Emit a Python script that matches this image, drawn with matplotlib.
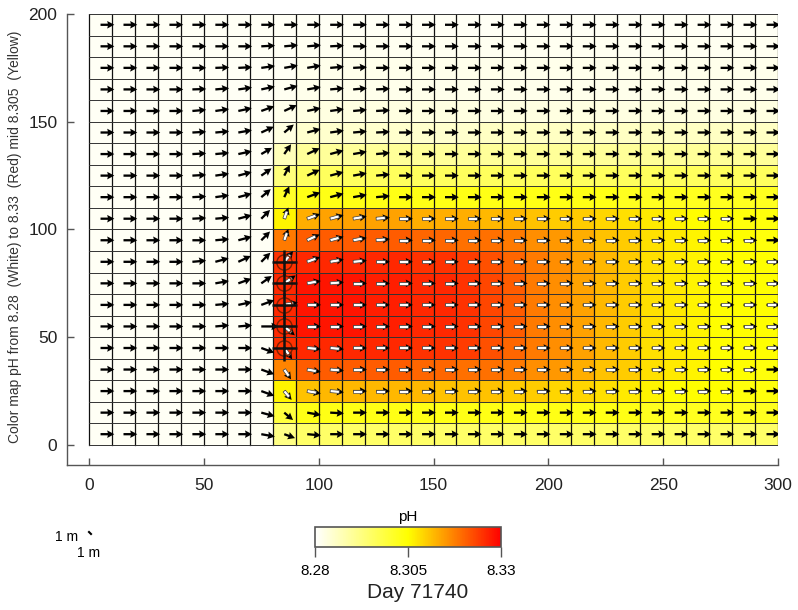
import numpy as np
import matplotlib
matplotlib.use("Agg")
import matplotlib.pyplot as plt
from matplotlib.colors import LinearSegmentedColormap, Normalize
from matplotlib.cm import ScalarMappable

plt.rcParams['font.family'] = ['Liberation Sans', 'DejaVu Sans']

x_edges = np.arange(0, 301, 10)
y_edges = np.arange(0, 201, 10)

# pH per cell, rows from the top (y 190-200) down to the bottom (y 0-10), 30 columns
ph_rows = [
    [8.281]*30,
    [8.281]*9 + [8.2815]*21,
    [8.281]*9 + [8.282]*21,
    [8.281]*8 + [8.2815] + [8.282]*21,
    [8.281]*8 + [8.282, 8.283, 8.283, 8.283, 8.283, 8.283, 8.283, 8.283, 8.283, 8.283, 8.283,
                 8.283, 8.283, 8.283, 8.283, 8.283, 8.283, 8.283, 8.283, 8.283, 8.283, 8.283],
    [8.281]*8 + [8.283, 8.285, 8.285, 8.285, 8.285, 8.285, 8.285, 8.285, 8.285, 8.286, 8.286,
                 8.286, 8.286, 8.286, 8.286, 8.286, 8.286, 8.286, 8.286, 8.286, 8.286, 8.286],
    [8.281]*8 + [8.287, 8.290, 8.290, 8.290, 8.290, 8.290, 8.290, 8.290, 8.290, 8.290, 8.290,
                 8.290, 8.290, 8.290, 8.290, 8.290, 8.290, 8.290, 8.290, 8.290, 8.290, 8.290],
    [8.281]*8 + [8.293, 8.296, 8.296, 8.296, 8.296, 8.296, 8.296, 8.296, 8.296, 8.296, 8.296,
                 8.296, 8.296, 8.296, 8.296, 8.296, 8.296, 8.296, 8.296, 8.296, 8.296, 8.296],
    [8.281]*8 + [8.301, 8.303, 8.303, 8.303, 8.303, 8.303, 8.303, 8.303, 8.303, 8.303, 8.303,
                 8.303, 8.303, 8.303, 8.303, 8.302, 8.302, 8.302, 8.302, 8.302, 8.302, 8.302],
    [8.281]*8 + [8.306, 8.313, 8.314, 8.314, 8.314, 8.314, 8.313, 8.313, 8.313, 8.312, 8.312,
                 8.311, 8.310, 8.310, 8.309, 8.308, 8.307, 8.306, 8.305, 8.305, 8.304, 8.304],
    [8.281]*8 + [8.318, 8.321, 8.321, 8.321, 8.321, 8.321, 8.320, 8.320, 8.319, 8.319, 8.318,
                 8.316, 8.315, 8.313, 8.311, 8.310, 8.308, 8.307, 8.306, 8.305, 8.305, 8.304],
    [8.281]*8 + [8.325, 8.326, 8.326, 8.326, 8.326, 8.326, 8.325, 8.325, 8.324, 8.322, 8.320,
                 8.318, 8.316, 8.314, 8.312, 8.310, 8.308, 8.307, 8.306, 8.305, 8.305, 8.305],
    [8.281]*8 + [8.326, 8.328, 8.328, 8.328, 8.327, 8.327, 8.326, 8.326, 8.325, 8.323, 8.321,
                 8.318, 8.316, 8.314, 8.312, 8.310, 8.308, 8.307, 8.306, 8.305, 8.305, 8.305],
    [8.281]*8 + [8.326, 8.328, 8.328, 8.328, 8.327, 8.327, 8.326, 8.326, 8.325, 8.323, 8.321,
                 8.318, 8.316, 8.314, 8.312, 8.310, 8.308, 8.307, 8.306, 8.305, 8.305, 8.305],
    [8.281]*8 + [8.326, 8.328, 8.328, 8.328, 8.327, 8.327, 8.326, 8.326, 8.325, 8.323, 8.321,
                 8.318, 8.316, 8.314, 8.312, 8.310, 8.308, 8.307, 8.306, 8.305, 8.305, 8.305],
    [8.281]*8 + [8.325, 8.326, 8.326, 8.326, 8.326, 8.326, 8.325, 8.325, 8.324, 8.322, 8.320,
                 8.318, 8.316, 8.314, 8.312, 8.310, 8.308, 8.307, 8.306, 8.305, 8.305, 8.305],
    [8.281]*8 + [8.317, 8.321, 8.321, 8.321, 8.321, 8.321, 8.320, 8.320, 8.319, 8.319, 8.318,
                 8.316, 8.315, 8.313, 8.311, 8.310, 8.308, 8.307, 8.306, 8.305, 8.305, 8.304],
    [8.281]*8 + [8.306, 8.311, 8.312, 8.312, 8.312, 8.312, 8.312, 8.311, 8.311, 8.311, 8.310,
                 8.310, 8.309, 8.309, 8.308, 8.307, 8.306, 8.305, 8.305, 8.305, 8.304, 8.304],
    [8.281]*8 + [8.299, 8.303, 8.303, 8.303, 8.303, 8.303, 8.303, 8.303, 8.303, 8.303, 8.303,
                 8.303, 8.303, 8.303, 8.303, 8.303, 8.302, 8.302, 8.302, 8.302, 8.302, 8.302],
    [8.281]*8 + [8.292, 8.295, 8.295, 8.295, 8.295, 8.295, 8.295, 8.295, 8.295, 8.295, 8.295,
                 8.295, 8.295, 8.295, 8.295, 8.295, 8.295, 8.295, 8.295, 8.295, 8.295, 8.295],
]

# arrow direction (degrees from east) per cell, same row order
arrow_deg_rows = [
    [0]*30,
    [0, 0, 0, 0, 0, 0, 0, 3, 5, 5, 3] + [0]*19,
    [0, 0, 0, 0, 0, 2, 3, 8, 10, 10, 5, 3] + [0]*18,
    [0, 0, 0, 0, 2, 5, 8, 12, 15, 10, 5, 5, 3] + [0]*17,
    [0, 0, 0, 0, 5, 8, 12, 20, 25, 12, 8, 5, 3] + [0]*17,
    [0, 0, 0, 0, 3, 5, 10, 25, 40, 15, 8, 5, 3] + [0]*17,
    [0, 0, 0, 0, 3, 5, 12, 30, 55, 25, 15, 10, 5] + [0]*17,
    [0, 0, 0, 0, 3, 8, 15, 35, 62, 25, 15, 10, 5] + [0]*17,
    [0, 0, 0, 0, 3, 8, 15, 40, 65, 20, 15, 10, 5] + [0]*17,
    [0, 0, 0, 0, 3, 5, 15, 45, 70, 20, 15, 10, 5] + [0]*17,
    [0, 0, 0, 0, 0, 5, 15, 45, 70, 25, 15, 10, 5] + [0]*17,
    [0, 0, 0, 0, 5, 15, 25, 45, 50, 20, 10, 5, 0] + [0]*17,
    [0, 0, 0, 0, 0, 10, 20, 35, 35, 10, 5, 0, 0] + [0]*17,
    [0, 0, 0, 0, 0, 5, 12, 20, 10, 0, 0, 0, 0] + [0]*17,
    [0, 0, 0, 0, 0, 5, 5, 0, -40, 0, 0, 0, 0] + [0]*17,
    [0, 0, 0, 0, 0, 0, 0, -20, -55, -5, -5, 0, 0] + [0]*17,
    [0, 0, 0, 0, 0, 0, 0, -20, -55, -10, -5, 0, 0] + [0]*17,
    [0, 0, 0, 0, 0, 0, 0, -20, -50, -10, -5, 0, 0] + [0]*17,
    [0, 0, 0, 0, 0, 0, 0, -15, -40, -10, -3, 0, 0] + [0]*17,
    [0, 0, 0, 0, 0, 0, 0, -10, -20, -5, 0, 0, 0] + [0]*17,
]

# arrow length in x units per cell, same row order
arrow_len_rows = [
    [6.0]*30,
    [6.0]*30,
    [6.0]*30,
    [6.0]*30,
    [6.0]*30,
    [6.0]*8 + [5.4] + [6.0]*21,
    [6.0]*7 + [5.4, 5.2] + [6.0]*21,
    [6.0]*7 + [5.4, 5.2] + [6.0]*21,
    [6.0]*7 + [5.4, 5.2] + [6.0]*21,
    [6.0]*7 + [5.4, 5.2] + [6.0]*21,
    [6.0]*7 + [5.4, 5.2] + [6.0]*21,
    [6.0]*7 + [5.6, 6.0] + [6.0]*21,
    [6.0]*7 + [5.6, 6.0] + [6.0]*21,
    [6.0]*7 + [6.0, 6.0] + [6.0]*21,
    [6.0]*7 + [7.5, 6.0] + [6.0]*21,
    [6.0]*7 + [6.0, 6.0] + [6.0]*21,
    [6.0]*7 + [6.0, 5.2] + [6.0]*21,
    [6.0]*7 + [6.0, 5.0] + [6.0]*21,
    [6.0]*7 + [6.0, 5.0] + [6.0]*21,
    [6.0]*7 + [6.0, 5.0] + [6.0]*21,
]

source_x = [85, 85, 85, 85, 85]
source_y = [45, 55, 65, 75, 85]

ph_min, ph_mid, ph_max = 8.28, 8.305, 8.33
day = 71740

ph = np.array(ph_rows)[::-1]
deg = np.array(arrow_deg_rows, dtype=float)[::-1]
alen = np.array(arrow_len_rows)[::-1]

cmap = LinearSegmentedColormap.from_list('wyr', [(0.0, '#ffffff'), (0.5, '#ffff00'), (1.0, '#ff0000')])
norm = Normalize(ph_min, ph_max)

fig = plt.figure(figsize=(7.98, 6.10), dpi=100)
ax = fig.add_axes([67/798, (610-465)/610, 711/798, 451/610])

ax.pcolormesh(x_edges, y_edges, ph, cmap=cmap, norm=norm, zorder=1)
for xv in x_edges:
    ax.plot([xv, xv], [0, 200], color='#111111', lw=0.9, zorder=2)
for yv in y_edges:
    ax.plot([0, 300], [yv, yv], color='#333333', lw=0.7, zorder=2)

xc = (x_edges[:-1] + x_edges[1:]) / 2
yc = (y_edges[:-1] + y_edges[1:]) / 2
X, Y = np.meshgrid(xc, yc)

ax.quiver(X, Y, alen, np.zeros_like(alen), angles=deg, scale_units='x', scale=1,
          pivot='tail', units='dots', width=2.3, headwidth=3.3, headlength=3.1,
          headaxislength=2.8, color='k', zorder=4)

# white tails inside the plume
mask = ph >= 8.305
ax.quiver(X[mask], Y[mask], alen[mask] * 0.66, np.zeros(mask.sum()), angles=deg[mask],
          scale_units='x', scale=1, pivot='tail', units='dots', width=3.0,
          headwidth=1, headlength=0, headaxislength=0, facecolor='white',
          edgecolor='#444444', linewidth=0.5, zorder=5)

ax.plot(source_x, source_y, 'o', ms=11, mfc='none', mec='#7a1f00', mew=1.0, zorder=6)
ax.plot(source_x, source_y, '+', ms=18, color='#111111', mew=1.8, zorder=6)

ax.set_xlim(-9.6, 300)
ax.set_ylim(-9.3, 200)
ax.set_xticks([0, 50, 100, 150, 200, 250, 300])
ax.set_yticks([0, 50, 100, 150, 200])
ax.spines['top'].set_visible(False)
ax.spines['right'].set_visible(False)
for s in ['left', 'bottom']:
    ax.spines[s].set_color('#555555')
    ax.spines[s].set_linewidth(1.0)
ax.tick_params(direction='in', length=5, width=1, color='#555555', labelsize=12.5, labelcolor='#222222')
ax.tick_params(axis='x', pad=9)
ax.tick_params(axis='y', pad=7)

fig.text(15/798, (610-237)/610, 'Color map pH from 8.28  (White) to 8.33  (Red) mid 8.305  (Yellow)',
         rotation=90, ha='center', va='center', fontsize=10, color='#333333')

# colour bar
cax = fig.add_axes([315/798, (610-547)/610, 186/798, 20/610])
cb = fig.colorbar(ScalarMappable(norm=norm, cmap=cmap), cax=cax, orientation='horizontal')
cb.set_ticks([ph_min, ph_mid, ph_max])
cb.set_ticklabels(['8.28', '8.305', '8.33'])
cb.outline.set_edgecolor('#555555')
cb.outline.set_linewidth(1.2)
cax.tick_params(direction='out', length=7, width=1, color='#555555', labelsize=11, pad=5)
cax.set_title('pH', fontsize=11, pad=4)

fig.text(418/798, (610-592)/610, f'Day {day}', ha='center', va='center', fontsize=15, color='#222222')

# vector scale
fig.text(55/798, (610-537)/610, '1 m', ha='left', va='center', fontsize=10)
fig.text(77/798, (610-553)/610, '1 m', ha='left', va='center', fontsize=10)
fig.add_artist(plt.Line2D([89/798, 91/798], [(610-532)/610, (610-534)/610], color='k', lw=1.5))

fig.savefig('out.png', dpi=100)
